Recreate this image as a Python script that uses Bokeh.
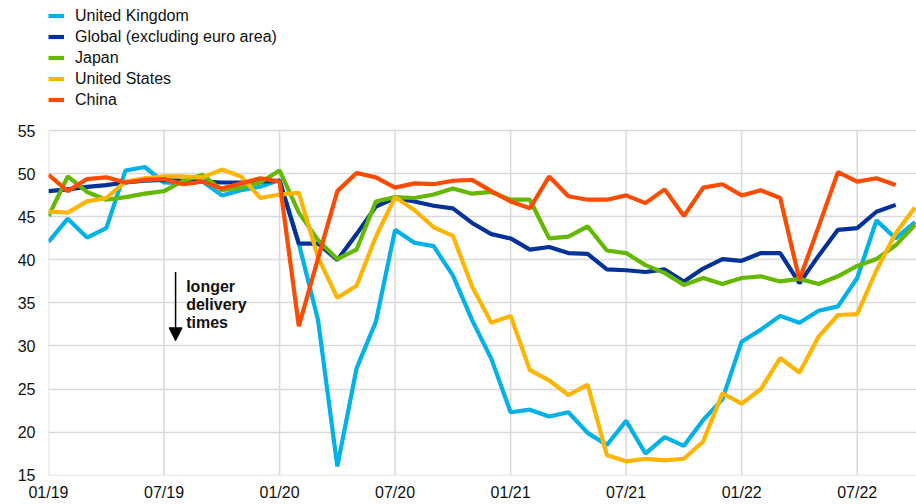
from bokeh.plotting import figure
from bokeh.models import (ColumnDataSource, Legend, LegendItem, FixedTicker,
                          Arrow, NormalHead, Label, Range1d)
from bokeh.embed import file_html
from bokeh.resources import INLINE

# Monthly index 0 = Jan 2019 ... 45 = Oct 2022
uk = [42.1, 44.8, 42.6, 43.7, 50.4, 50.8, 49.0, 48.9, 49.1, 47.5, 48.1, 48.5, 49.3,
      41.9, 33.0, 16.0, 27.4, 32.8, 43.5, 42.0, 41.6, 38.2, 33.0, 28.5, 22.3, 22.6,
      21.8, 22.3, 19.9, 18.5, 21.3, 17.5, 19.4, 18.4, 21.4, 23.8, 30.5, 31.9, 33.5,
      32.7, 34.1, 34.6, 37.9, 44.6, 42.5, 44.4]
global_ex_ea = [48.0, 48.2, 48.5, 48.7, 49.0, 49.2, 49.3, 49.2, 49.1, 49.0, 49.0, 49.1,
                49.2, 41.9, 41.9, 40.0, 43.0, 46.2, 47.2, 46.8, 46.3, 46.0, 44.3, 43.0,
                42.5, 41.2, 41.5, 40.8, 40.7, 38.9, 38.8, 38.6, 38.9, 37.5, 39.0, 40.1,
                39.9, 40.8, 40.8, 37.3, 40.5, 43.5, 43.7, 45.6, 46.4]
japan = [45.1, 49.7, 47.9, 47.0, 47.3, 47.7, 48.0, 49.2, 49.9, 48.1, 48.4, 49.0, 50.4,
         45.5, 42.3, 40.1, 41.2, 46.8, 47.3, 47.2, 47.6, 48.3, 47.7, 47.9, 47.0, 47.0,
         42.5, 42.7, 43.9, 41.1, 40.8, 39.4, 38.5, 37.1, 37.9, 37.2, 37.9, 38.1, 37.5,
         37.8, 37.2, 38.1, 39.3, 40.1, 41.7, 44.1]
us = [45.6, 45.5, 46.8, 47.2, 49.1, 49.5, 49.7, 49.7, 49.6, 50.5, 49.7, 47.2, 47.6,
      47.8, 40.3, 35.6, 37.0, 42.7, 47.3, 45.8, 43.8, 42.8, 36.9, 32.7, 33.5, 27.2,
      26.0, 24.3, 25.5, 17.3, 16.6, 16.9, 16.7, 16.9, 18.9, 24.5, 23.3, 25.0, 28.6,
      26.9, 31.1, 33.6, 33.7, 38.8, 43.1, 46.1]
china = [49.9, 48.0, 49.4, 49.6, 49.0, 49.3, 49.4, 48.8, 49.1, 48.3, 48.9, 49.5, 49.1,
         32.3, 40.2, 48.0, 50.1, 49.6, 48.4, 48.9, 48.8, 49.2, 49.3, 48.0, 46.8, 46.0,
         49.7, 47.4, 47.0, 47.0, 47.5, 46.6, 48.2, 45.1, 48.4, 48.8, 47.5, 48.1, 47.2,
         37.7, 43.9, 50.2, 49.1, 49.5, 48.7]

series_names = ["United Kingdom", "Global (excluding euro area)", "Japan",
                "United States", "China"]
series_values = [uk, global_ex_ea, japan, us, china]
series_colors = ["#00b1ea", "#003299", "#65b800", "#ffb400", "#ff4b00"]

tick_positions = [0, 6, 12, 18, 24, 30, 36, 42]
tick_labels = ["01/19", "07/19", "01/20", "07/20", "01/21", "07/21", "01/22", "07/22"]
y_ticks = [15, 20, 25, 30, 35, 40, 45, 50, 55]
y_min, y_max = 15, 55

FONT = "Liberation Sans"
GRID = "#d9d9d9"

# Frame extends to the top of the canvas so that the legend fits inside it;
# y range above 55 stays empty (legend area).
p = figure(width=916, height=504, output_backend="svg", toolbar_location=None,
           x_range=Range1d(0, 45.08), y_range=Range1d(14.95, 70.15),
           min_border_left=48, min_border_right=0, min_border_top=0,
           min_border_bottom=29)
p.outline_line_color = None
p.background_fill_color = "white"
p.border_fill_color = "white"

# vertical grid lines only over the value band 15..55
p.segment(x0=tick_positions, y0=[y_min] * len(tick_positions),
          x1=tick_positions, y1=[y_max] * len(tick_positions),
          line_color=GRID, line_width=1.5)
p.xgrid.visible = False

renderers = []
for name, vals, col in zip(series_names, series_values, series_colors):
    src = ColumnDataSource(dict(x=list(range(len(vals))), y=vals))
    r = p.line("x", "y", source=src, line_color=col, line_width=4.2)
    renderers.append(r)

# axes
p.xaxis.ticker = FixedTicker(ticks=tick_positions)
p.xaxis.major_label_overrides = {t: l for t, l in zip(tick_positions, tick_labels)}
p.yaxis.ticker = FixedTicker(ticks=y_ticks)
for ax in (p.xaxis, p.yaxis):
    ax.axis_line_color = None
    ax.major_tick_line_color = None
    ax.minor_tick_line_color = None
    ax.major_tick_out = 0
    ax.major_tick_in = 0
    ax.major_label_text_font = FONT
    ax.major_label_text_font_size = "16px"
    ax.major_label_text_color = "#111111"
p.xaxis.major_label_standoff = 8
p.yaxis.major_label_standoff = 13

p.ygrid.ticker = FixedTicker(ticks=y_ticks)
p.ygrid.grid_line_color = GRID
p.ygrid.grid_line_width = 1.5

legend = Legend(items=[LegendItem(label=n, renderers=[r])
                       for n, r in zip(series_names, renderers)],
                location=(0, 365), orientation="vertical",
                label_text_font=FONT, label_text_font_size="16px",
                label_text_color="#111111",
                glyph_width=16, glyph_height=21, label_height=21,
                label_standoff=11, spacing=0, padding=0, margin=0,
                border_line_color=None, background_fill_alpha=0)
p.add_layout(legend)

# annotation: longer delivery times
p.add_layout(Arrow(end=NormalHead(size=13, fill_color="black", line_color="black"),
                   x_start=6.6, y_start=38.6, x_end=6.6, y_end=30.6,
                   line_color="black", line_width=1.5))
for txt, yy in zip(["longer", "delivery", "times"], [36.9, 34.8, 32.7]):
    p.add_layout(Label(x=7.15, y=yy, text=txt, text_font=FONT,
                       text_font_size="16px", text_font_style="bold",
                       text_baseline="middle", text_color="#111111"))

open("out.html", "w").write(file_html(p, INLINE))
